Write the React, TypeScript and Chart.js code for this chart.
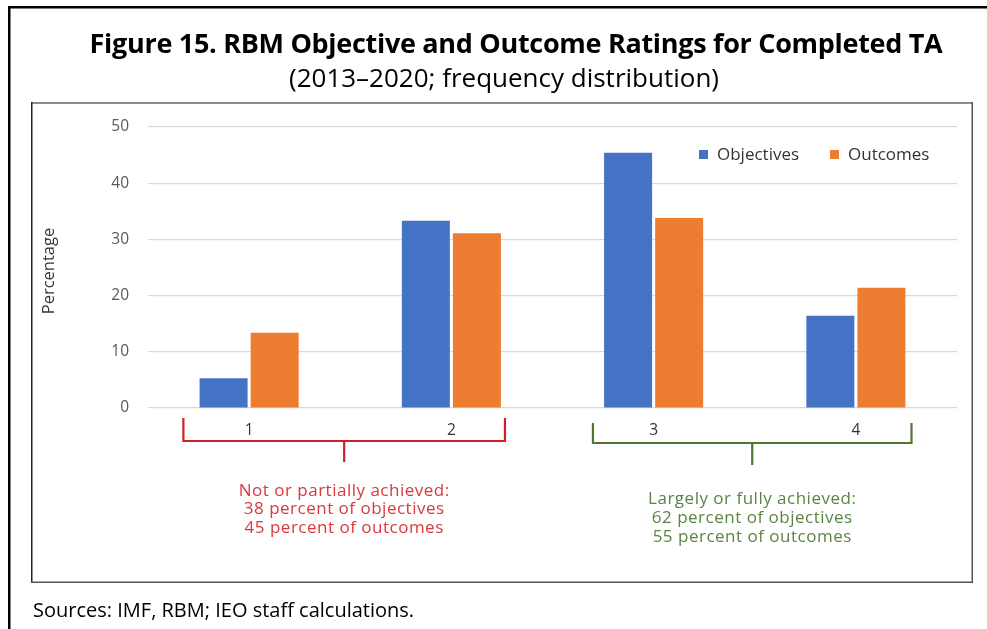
import React, { useEffect, useRef } from "react";
import { Chart, registerables } from "chart.js";

Chart.register(...registerables);

const categories = ["1", "2", "3", "4"];
const objectives = [5.3, 33.3, 45.4, 16.4];
const outcomes = [13.4, 31.1, 33.8, 21.4];
const yTicks = [0, 10, 20, 30, 40, 50];
const seriesNames = ["Objectives", "Outcomes"];
const leftNote = ["Not or partially achieved:", "38 percent of objectives", "45 percent of outcomes"];
const rightNote = ["Largely or fully achieved:", "62 percent of objectives", "55 percent of outcomes"];

const FONT = "'Open Sans', 'Noto Sans', sans-serif";

const decor = {
  id: "decor",
  afterDraw(chart: any) {
    const ctx = chart.ctx as CanvasRenderingContext2D;
    const xs = chart.scales.x;
    ctx.save();
    // outer frame
    ctx.fillStyle = "#000";
    ctx.fillRect(8, 6, 979, 2.5);
    ctx.fillRect(8, 6, 2.5, 623);
    // inner frame
    ctx.fillStyle = "#8c8c8c";
    ctx.fillRect(31, 102, 942, 2);
    ctx.fillStyle = "#222";
    ctx.fillRect(31, 102, 1.5, 481);
    ctx.fillStyle = "#555";
    ctx.fillRect(971.5, 102, 1.5, 481);
    ctx.fillRect(31, 581.5, 942, 1.5);

    // y title
    ctx.save();
    ctx.translate(49, 271);
    ctx.rotate(-Math.PI / 2);
    ctx.fillStyle = "#333";
    ctx.font = `16.5px ${FONT}`;
    ctx.textAlign = "center";
    ctx.textBaseline = "middle";
    ctx.fillText("Percentage", 0, 0, 92);
    ctx.restore();

    // legend
    const ds = chart.data.datasets;
    const legendX = [699, 830];
    ctx.font = `17px ${FONT}`;
    ctx.textBaseline = "middle";
    ctx.textAlign = "left";
    ds.forEach((d: any, i: number) => {
      ctx.fillStyle = d.backgroundColor;
      ctx.fillRect(legendX[i], 150, 9, 9);
      ctx.fillStyle = "#333";
      ctx.fillText(d.label, legendX[i] + 18, 155);
    });

    // brackets
    const step = xs.getPixelForValue(1) - xs.getPixelForValue(0);
    const drawBracket = (a: number, b: number, color: string, top: number, bot: number, stemEnd: number, lo: number, ro: number) => {
      const x1 = xs.getPixelForValue(a) + lo * step;
      const x2 = xs.getPixelForValue(b) + ro * step;
      const mid = (x1 + x2) / 2;
      ctx.strokeStyle = color;
      ctx.lineWidth = 2.2;
      ctx.beginPath();
      ctx.moveTo(x1, top);
      ctx.lineTo(x1, bot);
      ctx.lineTo(x2, bot);
      ctx.lineTo(x2, top);
      ctx.moveTo(mid, bot);
      ctx.lineTo(mid, stemEnd);
      ctx.stroke();
      return mid;
    };
    const redMid = drawBracket(0, 1, "#cf1f27", 418, 441, 462, -0.325, 0.265);
    const greenMid = drawBracket(2, 3, "#4c7734", 423, 443, 465, -0.30, 0.275);

    ctx.textAlign = "center";
    ctx.font = `17px ${FONT}`;
    (ctx as any).letterSpacing = "0.5px";
    ctx.fillStyle = "#d9393c";
    leftNote.forEach((t, i) => ctx.fillText(t, redMid, 491 + i * 18.5));
    ctx.fillStyle = "#5a8444";
    rightNote.forEach((t, i) => ctx.fillText(t, greenMid, 499 + i * 19));
    ctx.restore();
  },
};

export default function App() {
  const ref = useRef<HTMLCanvasElement>(null);
  useEffect(() => {
    if (!ref.current) return;
    const chart = new Chart(ref.current, {
      type: "bar",
      data: {
        labels: categories,
        datasets: [
          { label: seriesNames[0], data: objectives, backgroundColor: "#4472c4", categoryPercentage: 0.505, barPercentage: 0.94 },
          { label: seriesNames[1], data: outcomes, backgroundColor: "#ed7d31", categoryPercentage: 0.505, barPercentage: 0.94 },
        ],
      },
      options: {
        responsive: false,
        animation: false,
        layout: { padding: { left: 0, top: 127, right: 30, bottom: 0 } },
        plugins: { legend: { display: false }, title: { display: false }, tooltip: { enabled: false } },
        scales: {
          x: {
            grid: { display: false, drawTicks: false },
            border: { display: false },
            ticks: { color: "#333", font: { family: FONT, size: 15.5 }, padding: 13 },
            afterFit: (s: any) => { s.height = 221; },
          },
          y: {
            min: yTicks[0],
            max: yTicks[yTicks.length - 1],
            afterBuildTicks: (s: any) => { s.ticks = yTicks.map((v) => ({ value: v })); },
            grid: { color: "#d9d9d9", lineWidth: 1.2, drawTicks: false },
            border: { display: false },
            ticks: { color: "#595959", font: { family: FONT, size: 15.5 }, padding: 19 },
            afterFit: (s: any) => { s.width = 148; },
          },
        },
      },
      plugins: [decor],
    });
    return () => chart.destroy();
  }, []);

  return (
    <div style={{ position: "fixed", left: 0, top: 0, width: 987, height: 629, background: "#fff", overflow: "hidden" }}>
      <canvas ref={ref} width={987} height={629} style={{ position: "absolute", left: 0, top: 0 }} />
      <div style={{ position: "absolute", left: 516, top: 24, transform: "translateX(-50%)", whiteSpace: "nowrap", fontFamily: FONT, fontWeight: 700, fontSize: 27, color: "#000", letterSpacing: -0.3 }}>
        Figure 15. RBM Objective and Outcome Ratings for Completed TA
      </div>
      <div style={{ position: "absolute", left: 504, top: 59, transform: "translateX(-50%)", whiteSpace: "nowrap", fontFamily: FONT, fontSize: 26, color: "#000" }}>
        (2013–2020; frequency distribution)
      </div>
      <div style={{ position: "absolute", left: 33, top: 596, whiteSpace: "nowrap", fontFamily: FONT, fontSize: 20, color: "#000" }}>
        Sources: IMF, RBM; IEO staff calculations.
      </div>
    </div>
  );
}
